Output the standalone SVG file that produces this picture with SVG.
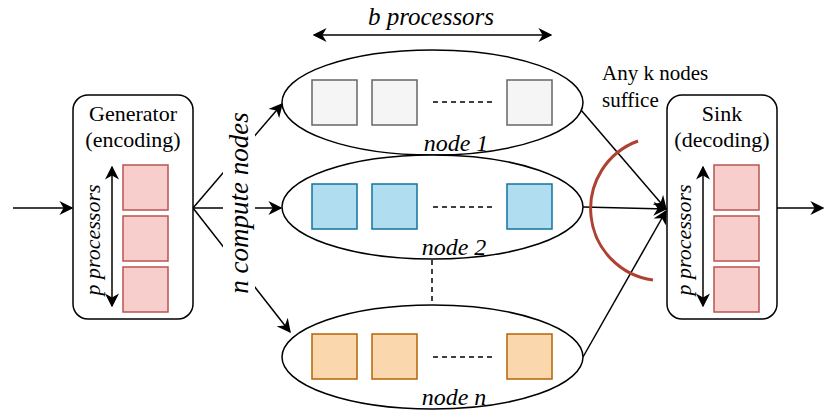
<svg xmlns="http://www.w3.org/2000/svg" width="838" height="411" viewBox="0 0 838 411">
<style>
text{font-family:'Liberation Serif','Times New Roman',serif;fill:#000}
.it{font-style:italic}
.ln{stroke:#000;stroke-width:1.5;fill:none}
.box{fill:#fff;stroke:#000;stroke-width:1.5}
.ell{fill:#fff;stroke:#000;stroke-width:1.5}
.red{fill:#f8cecc;stroke:#b85450;stroke-width:1.5}
.gry{fill:#f5f5f5;stroke:#666666;stroke-width:1.5}
.blu{fill:#b1ddf0;stroke:#10739e;stroke-width:1.5}
.org{fill:#fad7ac;stroke:#b46504;stroke-width:1.5}
.dash{stroke:#000;stroke-width:1.5;stroke-dasharray:5 4;fill:none}
</style>
<defs>
<marker id="ahb" viewBox="0 0 10 10" refX="9" refY="5" markerWidth="14" markerHeight="14" markerUnits="userSpaceOnUse" orient="auto-start-reverse">
<path d="M0,0 L10,5 L0,10 L3,5 z" fill="#000"/>
</marker>
</defs>

<g id="connectors">
<line class="ln" x1="13" y1="208" x2="72" y2="208" marker-end="url(#ahb)"/>
<line class="ln" x1="193" y1="208" x2="282" y2="104" marker-end="url(#ahb)"/>
<line class="ln" x1="193" y1="208" x2="281" y2="208" marker-end="url(#ahb)"/>
<line class="ln" x1="193" y1="208" x2="290" y2="332" marker-end="url(#ahb)"/>
<line class="ln" x1="581" y1="110" x2="666" y2="209" marker-end="url(#ahb)"/>
<line class="ln" x1="583" y1="207" x2="666" y2="209" marker-end="url(#ahb)"/>
<line class="ln" x1="583" y1="357" x2="666" y2="211" marker-end="url(#ahb)"/>
<line class="ln" x1="777" y1="208" x2="823" y2="208" marker-end="url(#ahb)"/>
<line class="dash" x1="432" y1="260" x2="432" y2="304"/>
<line class="ln" x1="314" y1="35" x2="551" y2="35" marker-start="url(#ahb)" marker-end="url(#ahb)"/>
</g>

<g id="label-n">
<rect x="223" y="112" width="32" height="184" fill="#fff"/>
<text class="it" font-size="27" transform="translate(248,203) rotate(-90)" text-anchor="middle">n compute nodes</text>
</g>

<g id="label-b">
<text class="it" font-size="25" x="431" y="25" text-anchor="middle">b processors</text>
</g>

<g id="generator">
<rect class="box" x="73" y="95" width="120" height="224" rx="15"/>
<text x="133" y="121" font-size="22" text-anchor="middle">Generator</text>
<text x="133" y="147" font-size="22" text-anchor="middle">(encoding)</text>
<rect class="red" x="123" y="165" width="45" height="45"/>
<rect class="red" x="123" y="216" width="45" height="45"/>
<rect class="red" x="123" y="267" width="45" height="45"/>
<line class="ln" x1="112" y1="167" x2="112" y2="306" marker-start="url(#ahb)" marker-end="url(#ahb)"/>
<text class="it" font-size="22" transform="translate(100,240) rotate(-90)" text-anchor="middle">p processors</text>
</g>

<g id="node1">
<ellipse class="ell" cx="432.5" cy="102.5" rx="150.5" ry="52.5"/>
<rect class="gry" x="312" y="80" width="45" height="45"/>
<rect class="gry" x="372" y="80" width="45" height="45"/>
<rect class="gry" x="507" y="80" width="45" height="45"/>
<line class="dash" x1="433" y1="102" x2="492" y2="102"/>
<text class="it" font-size="24" x="456" y="151" text-anchor="middle">node 1</text>
</g>

<g id="node2">
<ellipse class="ell" cx="432.5" cy="207" rx="150.5" ry="52"/>
<rect class="blu" x="312" y="184" width="45" height="45"/>
<rect class="blu" x="372" y="184" width="45" height="45"/>
<rect class="blu" x="507" y="184" width="45" height="45"/>
<line class="dash" x1="433" y1="207" x2="492" y2="207"/>
<text class="it" font-size="24" x="454" y="255" text-anchor="middle">node 2</text>
</g>

<g id="noden">
<ellipse class="ell" cx="432.5" cy="357" rx="150.5" ry="52"/>
<rect class="org" x="312" y="334" width="45" height="45"/>
<rect class="org" x="372" y="334" width="45" height="45"/>
<rect class="org" x="507" y="334" width="45" height="45"/>
<line class="dash" x1="433" y1="357" x2="492" y2="357"/>
<text class="it" font-size="24" x="454" y="405" text-anchor="middle">node n</text>
</g>

<g id="sink">
<rect class="box" x="667" y="95" width="110" height="224" rx="15"/>
<text x="722" y="121" font-size="22" text-anchor="middle">Sink</text>
<text x="722" y="147" font-size="22" text-anchor="middle">(decoding)</text>
<rect class="red" x="714" y="165" width="45" height="45"/>
<rect class="red" x="714" y="216" width="45" height="45"/>
<rect class="red" x="714" y="267" width="45" height="45"/>
<line class="ln" x1="703" y1="167" x2="703" y2="306" marker-start="url(#ahb)" marker-end="url(#ahb)"/>
<text class="it" font-size="22" transform="translate(691,240) rotate(-90)" text-anchor="middle">p processors</text>
</g>

<g id="any-k">
<path d="M638,141 A72,72 0 0 0 653,280" fill="none" stroke="#ae4132" stroke-width="3"/>
<text x="602" y="80" font-size="21">Any k nodes</text>
<text x="602" y="107" font-size="21">suffice</text>
</g>
</svg>
